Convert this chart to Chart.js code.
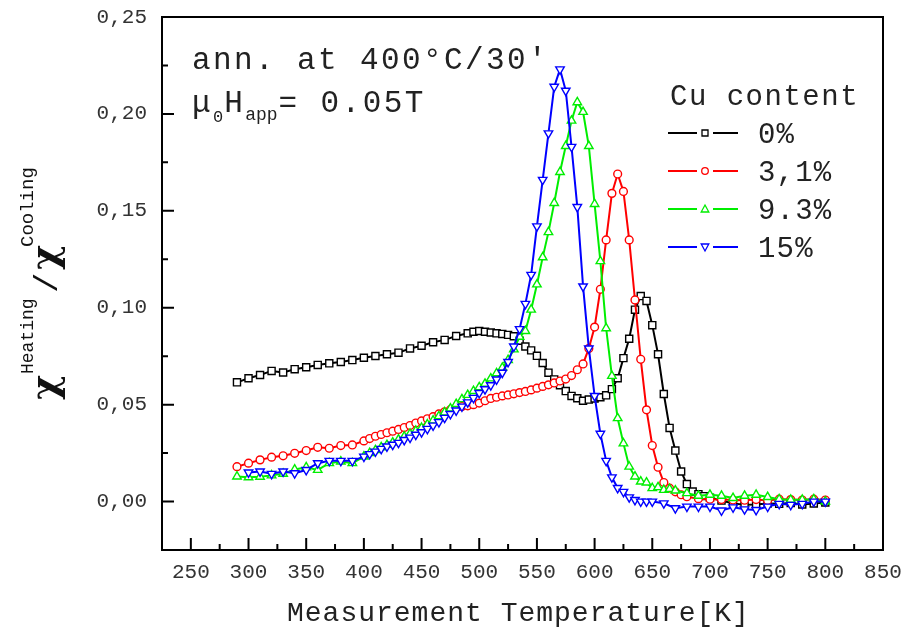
<!DOCTYPE html>
<html><head><meta charset="utf-8">
<script src="https://cdn.jsdelivr.net/npm/chart.js@4.4.1/dist/chart.umd.min.js"></script>
<style>html,body{margin:0;padding:0;background:#fff}canvas{display:block}</style>
</head><body>
<canvas id="c" width="912" height="627"></canvas>
<script>
// ---- tick labels ----
const xTickValues = [250,300,350,400,450,500,550,600,650,700,750,800,850];
const yTickValues = [0,0.05,0.10,0.15,0.20,0.25];
const seriesNames = ['0%','3,1%','9.3%','15%'];

// ---- series: 0% Cu ----
const temp0 = [290,300,310,320,330,340,350,360,370,380,390,400,410,420,430,440,450,460,470,480,
  490,495,500,505,510,515,520,525,530,535,540,545,550,555,560,565,570,575,580,585,590,595,600,605,610,615,620,625,630,635,640,645,650,655,660,665,670,675,680,685,690,695,700,
  710,720,730,740,750,760,770,780,790,800];
const chi0 = [.0615,.0636,.0653,.0674,.0666,.0683,.0693,.0705,.0713,.0720,.0730,.0742,.0751,.0760,.0768,.0790,.0804,.0822,.0834,.0854,
  .0868,.0876,.0880,.0876,.0872,.0868,.0865,.0860,.0853,.0830,.0800,.0780,.0752,.0715,.0665,.0630,.0600,.0570,.0545,.0533,.0520,.0526,.0532,.0538,.0548,.0580,.0636,.0740,.0840,.0990,.1060,.1035,.0910,.0760,.0555,.0380,.0263,.0155,.0090,.0052,.0038,.0028,.0020,
  .0005,-.0010,-.0017,-.0015,-.0010,-.0012,-.0008,-.0015,-.0010,-.0005];

// ---- series: 3,1% Cu ----
const temp1 = [290,300,310,320,330,340,350,360,370,380,390,400,
  405,410,415,420,425,430,435,440,445,450,455,460,465,470,475,480,485,490,495,500,505,510,515,520,525,530,535,540,545,550,555,560,565,570,575,580,585,590,595,600,605,610,615,620,625,630,635,640,645,650,655,660,665,670,675,680,
  690,700,710,720,730,740,750,760,770,780,790,800];
const chi1 = [.0180,.0198,.0215,.0229,.0236,.0249,.0263,.0280,.0275,.0289,.0292,.0313,
  .0325,.0337,.0346,.0355,.0363,.0372,.0382,.0392,.0405,.0416,.0427,.0438,.0452,.0463,.0474,.0484,.0490,.0494,.0500,.0508,.0520,.0532,.0538,.0545,.0550,.0556,.0562,.0568,.0576,.0585,.0594,.0602,.0612,.0622,.0632,.0650,.0680,.0710,.0790,.0900,.1095,.1350,.1590,.1690,.1600,.1350,.1040,.0734,.0473,.0289,.0177,.0098,.0069,.0050,.0035,.0025,
  .0015,.0012,.0010,.0008,.0007,.0010,.0005,.0012,.0010,.0008,.0012,.0008];

// ---- series: 9.3% Cu ----
const temp2 = [290,300,310,320,330,340,350,360,370,380,390,400,
  405,410,415,420,425,430,435,440,445,450,455,460,465,470,475,480,485,490,495,500,505,510,515,520,525,530,535,540,545,550,555,560,565,570,575,580,585,590,595,600,605,610,615,620,625,630,635,640,645,650,655,660,665,670,
  680,690,700,710,720,730,740,750,760,770,780,790,800];
const chi2 = [.0129,.0125,.0128,.0135,.0143,.0165,.0177,.0163,.0198,.0206,.0198,.0232,
  .0250,.0265,.0280,.0292,.0305,.0320,.0335,.0350,.0365,.0380,.0398,.0418,.0440,.0460,.0480,.0503,.0528,.0550,.0570,.0590,.0608,.0635,.0662,.0690,.0730,.0785,.0850,.0880,.0990,.1120,.1260,.1390,.1540,.1700,.1834,.1965,.2060,.2010,.1834,.1535,.1240,.0894,.0648,.0430,.0300,.0180,.0129,.0103,.0098,.0069,.0074,.0060,.0065,.0057,
  .0043,.0030,.0035,.0030,.0018,.0030,.0035,.0023,.0012,.0009,.0009,.0012,.0000];

// ---- series: 15% Cu ----
const temp3 = [300,310,320,330,340,350,360,370,380,390,400,
  405,410,415,420,425,430,435,440,445,450,455,460,465,470,475,480,485,490,495,500,505,510,515,520,525,530,535,540,545,550,555,560,565,570,575,580,585,590,595,600,605,610,615,620,625,630,635,640,645,650,
  660,670,680,690,700,710,720,730,740,750,760,770,780,790,800];
const chi3 = [.0150,.0155,.0143,.0155,.0146,.0163,.0198,.0210,.0210,.0210,.0232,
  .0245,.0258,.0272,.0284,.0293,.0303,.0318,.0330,.0345,.0358,.0375,.0392,.0410,.0432,.0452,.0470,.0490,.0512,.0535,.0560,.0580,.0600,.0630,.0665,.0720,.0800,.0890,.1020,.1170,.1420,.1660,.1900,.2140,.2230,.2120,.1830,.1520,.1110,.0790,.0545,.0350,.0210,.0125,.0070,.0050,.0022,.0008,.0000,.0000,.0000,
  -.0009,-.0034,-.0026,-.0026,-.0026,-.0046,-.0030,-.0040,-.0043,-.0026,-.0012,-.0017,-.0012,.0000,.0000];

const colors = ['#000000','#ff0000','#00ee00','#0000ff'];
const FONT = '"Liberation Mono", "DejaVu Sans Mono", monospace';

function pts(t, v){ return t.map((x,i)=>({x:x, y:v[i]})); }

const datasets = [
  {label:seriesNames[0], data:pts(temp0,chi0), borderColor:colors[0], pointStyle:'rect', pointRadius:5, order:3},
  {label:seriesNames[1], data:pts(temp1,chi1), borderColor:colors[1], pointStyle:'circle', pointRadius:3.9, order:2},
  {label:seriesNames[2], data:pts(temp2,chi2), borderColor:colors[2], pointStyle:'triangle', pointRadius:4.9, order:1},
  {label:seriesNames[3], data:pts(temp3,chi3), borderColor:colors[3], pointStyle:'triangle', pointRotation:180, pointRadius:4.9, order:0}
].map(d => Object.assign({
  borderWidth:2, pointBorderWidth:1.4, pointBackgroundColor:'#ffffff',
  pointBorderColor:d.borderColor, tension:0, fill:false
}, d));

function txt(ctx, s, x, y, size, ls){
  ctx.font = size + 'px ' + FONT;
  ctx.letterSpacing = (ls||0) + 'px';
  ctx.fillText(s, x, y);
  const w = ctx.measureText(s).width;
  return x + w;
}

const decor = {
  id:'decor',
  afterDraw(chart){
    const ctx = chart.ctx;
    const {left, right, top, bottom} = chart.chartArea;
    const xs = chart.scales.x, ys = chart.scales.y;
    ctx.save();
    // frame
    ctx.strokeStyle = '#000'; ctx.lineWidth = 2;
    ctx.strokeRect(left, top, right-left, bottom-top);
    // ticks (inward)
    ctx.beginPath();
    xTickValues.forEach(v => { const p = xs.getPixelForValue(v); ctx.moveTo(p, bottom); ctx.lineTo(p, bottom-12); });
    xTickValues.slice(0,-1).forEach(v => { const p = xs.getPixelForValue(v+25); ctx.moveTo(p, bottom); ctx.lineTo(p, bottom-6); });
    yTickValues.forEach(v => { const p = ys.getPixelForValue(v); ctx.moveTo(left, p); ctx.lineTo(left+12, p); });
    yTickValues.slice(0,-1).forEach(v => { const p = ys.getPixelForValue(v+0.025); ctx.moveTo(left, p); ctx.lineTo(left+6, p); });
    ctx.stroke();

    ctx.fillStyle = '#222'; ctx.textAlign = 'left'; ctx.textBaseline = 'alphabetic';
    // x axis title
    txt(ctx, 'Measurement Temperature[K]', 287, 621, 28, 1.0);
    // annotation
    txt(ctx, "ann. at 400°C/30'", 192, 69, 31, 2.4);
    let x = txt(ctx, 'μ', 192, 112, 31, 2.4);
    x = txt(ctx, '0', x, 122, 17, 0);
    x = txt(ctx, 'H', x + 1, 112, 31, 2.4);
    x = txt(ctx, 'app', x, 120, 18, 0);
    txt(ctx, '= 0.05T', x + 1, 112, 31, 2.4);

    // legend
    txt(ctx, 'Cu content', 670, 105, 29, 1.5);
    const rows = [133, 171, 209, 247];
    chart.data.datasets.forEach((d, i) => {
      const y = rows[i];
      ctx.strokeStyle = d.borderColor; ctx.lineWidth = 2;
      ctx.beginPath(); ctx.moveTo(668, y); ctx.lineTo(697, y); ctx.moveTo(713, y); ctx.lineTo(738, y); ctx.stroke();
      ctx.lineWidth = 1.3; ctx.fillStyle = '#fff';
      const cx = 705, r = 3.3;
      ctx.beginPath();
      if (i === 0) ctx.rect(cx - 3, y - 3, 6, 6);
      else if (i === 1) ctx.arc(cx, y, r, 0, Math.PI*2);
      else if (i === 2) { ctx.moveTo(cx, y - 4); ctx.lineTo(cx + 3.8, y + 3); ctx.lineTo(cx - 3.8, y + 3); ctx.closePath(); }
      else { ctx.moveTo(cx, y + 4); ctx.lineTo(cx + 3.8, y - 3); ctx.lineTo(cx - 3.8, y - 3); ctx.closePath(); }
      ctx.fill(); ctx.stroke();
      ctx.fillStyle = '#222';
      txt(ctx, d.label, 758, y + 10, 29, 1.2);
    });

    // y axis title (rotated)
    ctx.translate(57, 400);
    ctx.rotate(-Math.PI/2);
    ctx.fillStyle = '#111';
    ctx.font = 'bold 38px "DejaVu Serif", serif'; ctx.letterSpacing = '0px';
    ctx.fillText('χ', 0, 0);
    txt(ctx, 'Heating', 26, -24, 18, 0);
    ctx.font = '34px "Liberation Mono", monospace'; ctx.letterSpacing = '0px';
    ctx.fillText('/', 107, 0);
    ctx.font = 'bold 38px "DejaVu Serif", serif';
    ctx.fillText('χ', 130, 0);
    txt(ctx, 'Cooling', 153, -24, 19, 0);
    ctx.restore();
  }
};

new Chart(document.getElementById('c'), {
  type:'line',
  data:{datasets:datasets},
  options:{
    responsive:false, animation:false, devicePixelRatio:1,
    layout:{padding:{top:17, right:29, left:0, bottom:0}},
    plugins:{legend:{display:false}, tooltip:{enabled:false}},
    scales:{
      x:{type:'linear', min:225, max:850,
        afterBuildTicks:s => { s.ticks = xTickValues.map(v => ({value:v})); },
        afterFit:s => { s.height = 77; s.paddingTop = 0; s.paddingBottom = 0; },
        grid:{display:false, drawTicks:false}, border:{display:false},
        ticks:{color:'#333', padding:10, font:{family:FONT, size:21}, maxRotation:0, autoSkip:false,
          callback:v => String(v)}
      },
      y:{type:'linear', min:-0.025, max:0.25,
        afterBuildTicks:s => { s.ticks = yTickValues.map(v => ({value:v})); },
        afterFit:s => { s.width = 162; s.paddingTop = 0; s.paddingBottom = 0; },
        grid:{display:false, drawTicks:false}, border:{display:false},
        ticks:{color:'#333', padding:15, font:{family:FONT, size:21}, autoSkip:false,
          callback:v => v.toFixed(2).replace('.', ',')}
      }
    }
  },
  plugins:[decor]
});
</script>
</body></html>
